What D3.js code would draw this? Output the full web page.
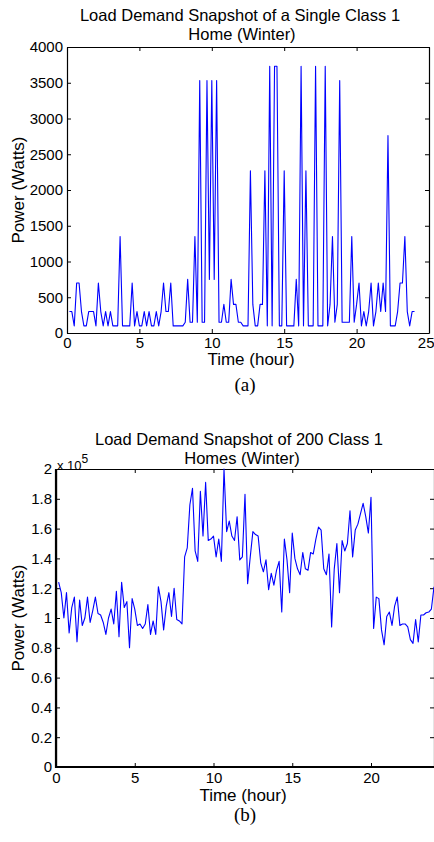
<!DOCTYPE html>
<html>
<head>
  <meta charset="utf-8"/>
  <title>Load demand</title>
  <style>
    body { margin: 0; background: #fff; }
    text { font-family: "Liberation Sans", Arial, Helvetica, sans-serif; fill: #000; }
    .axis path, .axis line { stroke: #000; }
    .axis text { font-size: 15px; font-family: "Liberation Sans", Arial, sans-serif; }
  </style>
</head>
<body>
<div id="graph"></div>
<script src="https://cdn.jsdelivr.net/npm/d3@7"></script>
<script>
    // single home, watts, one sample every 10 min starting at 0:10
    var powerA = [
      300, 300, 100, 700, 700, 300, 100, 100, 300, 300, 300, 100,
      700, 300, 100, 300, 100, 300, 100, 100, 100, 1350, 100, 100,
      100, 100, 700, 100, 300, 100, 100, 300, 100, 300, 100, 100,
      300, 100, 300, 700, 300, 300, 700, 100, 100, 100, 100, 100,
      150, 750, 150, 150, 1350, 150, 3530, 150, 150, 3530, 750, 3530,
      750, 3530, 150, 150, 400, 150, 150, 750, 400, 400, 150, 150,
      100, 100, 100, 2270, 400, 100, 100, 400, 400, 2270, 100, 3730,
      100, 3730, 3730, 100, 100, 2270, 100, 100, 100, 100, 750, 100,
      3730, 100, 2270, 100, 100, 100, 3730, 100, 100, 100, 3730, 100,
      400, 1350, 150, 400, 3530, 150, 150, 150, 150, 1350, 150, 400,
      700, 100, 300, 100, 300, 700, 100, 300, 700, 300, 700, 300,
      2760, 100, 100, 100, 300, 700, 700, 1350, 300, 100, 300, 300
    ];
    // 200 homes, in units of 10^5 watts
    var powerB = [
      1.24, 1.17, 1.00, 1.17, 0.90, 1.07, 1.14, 0.84, 1.12, 0.95, 1.00, 1.14,
      0.97, 1.05, 1.14, 1.03, 1.02, 0.97, 0.89, 1.00, 1.06, 0.96, 1.18, 0.875,
      1.24, 1.07, 1.11, 0.80, 1.13, 1.06, 0.95, 0.96, 0.93, 0.96, 1.09, 0.89,
      0.98, 0.89, 1.21, 1.11, 0.92, 1.08, 1.17, 1.01, 1.20, 0.99, 0.98, 0.96,
      1.41, 1.47, 1.76, 1.87, 1.45, 1.38, 1.85, 1.55, 1.91, 1.52, 1.53, 1.55,
      1.41, 1.53, 1.38, 2.00, 1.58, 1.65, 1.55, 1.52, 1.68, 1.39, 1.41, 1.83,
      1.23, 1.41, 1.58, 1.56, 1.55, 1.37, 1.31, 1.39, 1.19, 1.30, 1.22, 1.32,
      1.38, 1.04, 1.53, 1.39, 1.17, 1.57, 1.40, 1.33, 1.29, 1.44, 1.33, 1.32,
      1.44, 1.43, 1.53, 1.61, 1.59, 1.33, 1.29, 1.43, 0.94, 1.33, 1.50, 1.17,
      1.52, 1.45, 1.50, 1.72, 1.41, 1.59, 1.63, 1.70, 1.77, 1.68, 1.57, 1.81,
      0.93, 1.14, 1.13, 0.92, 0.82, 1.01, 1.04, 0.95, 1.08, 1.14, 0.95, 0.96,
      0.96, 0.94, 0.855, 0.83, 0.99, 0.84, 1.02, 1.02, 1.035, 1.04, 1.06, 1.21
    ];
    var sampleHours = powerA.map(function(d, i) { return (i + 1) / 6; });

    var xTicksA = [0, 5, 10, 15, 20, 25];
    var yTicksA = [0, 500, 1000, 1500, 2000, 2500, 3000, 3500, 4000];
    var xTicksB = [0, 5, 10, 15, 20];
    var yTicksB = [0, 0.2, 0.4, 0.6, 0.8, 1, 1.2, 1.4, 1.6, 1.8, 2];
    var titlesA = ["Load Demand Snapshot of a Single Class 1", "Home (Winter)"];
    var titlesB = ["Load Demand Snapshot of 200 Class 1", "Homes (Winter)"];

    var svg = d3.select("#graph").append("svg")
        .attr("width", 434)
        .attr("height", 842);

    function panel(o) {
      var x = d3.scaleLinear().domain(o.xDomain).range([o.left, o.right]);
      var y = d3.scaleLinear().domain(o.yDomain).range([o.bottom, o.top]);
      var g = svg.append("g");

      // inward ticks on all four sides, matlab style
      var xb = g.append("g").attr("class", "axis")
        .attr("transform", "translate(0," + o.bottom + ")")
        .call(d3.axisBottom(x).tickValues(o.xTicks).tickSize(-4).tickPadding(o.xPad).tickSizeOuter(0));
      g.append("g").attr("class", "axis")
        .attr("transform", "translate(0," + o.top + ")")
        .call(d3.axisTop(x).tickValues(o.xTicks).tickSize(-4).tickFormat("").tickSizeOuter(0));
      g.append("g").attr("class", "axis")
        .attr("transform", "translate(" + o.left + ",0)")
        .call(d3.axisLeft(y).tickValues(o.yTicks).tickSize(-4).tickPadding(4).tickSizeOuter(0).tickFormat(o.yFormat));
      g.append("g").attr("class", "axis")
        .attr("transform", "translate(" + o.right + ",0)")
        .call(d3.axisRight(y).tickValues(o.yTicks).tickSize(-4).tickFormat("").tickSizeOuter(0));
      g.selectAll(".axis path").attr("stroke-width", 1.2);
      g.selectAll(".axis line").attr("stroke-width", 1);

      // keep a label that sits on the right edge inside the page
      xb.selectAll(".tick text").filter(function(d) { return x(d) > 420; })
        .attr("text-anchor", "end").attr("x", 5);

      var line = d3.line()
          .x(function(d, i) { return x(sampleHours[i]); })
          .y(function(d) { return y(d); });
      g.append("path")
        .datum(o.values)
        .attr("fill", "none")
        .attr("stroke", "#0000ff")
        .attr("stroke-width", 1.1)
        .attr("stroke-linejoin", "round")
        .attr("d", line);

      if (o.thick) {
        g.append("line").attr("x1", o.left).attr("x2", o.left)
          .attr("y1", o.top).attr("y2", o.bottom + 1)
          .attr("stroke", "#000").attr("stroke-width", 2.2);
        g.append("line").attr("x1", o.left - 1).attr("x2", o.right)
          .attr("y1", o.bottom).attr("y2", o.bottom)
          .attr("stroke", "#000").attr("stroke-width", 2.2);
      }

      g.append("text").attr("x", o.titleX[0]).attr("y", o.titleY[0])
        .attr("text-anchor", "middle").style("font-size", "16.5px").text(o.titles[0]);
      g.append("text").attr("x", o.titleX[1]).attr("y", o.titleY[1])
        .attr("text-anchor", "middle").style("font-size", "16.5px").text(o.titles[1]);
      g.append("text").attr("x", o.xLabelX).attr("y", o.xLabelY)
        .attr("text-anchor", "middle").style("font-size", "17px").text("Time (hour)");
      g.append("text")
        .attr("transform", "translate(" + o.yLabelX + "," + o.yLabelY + ") rotate(-90)")
        .attr("text-anchor", "middle").style("font-size", "17px").text("Power (Watts)");
      g.append("text").attr("x", o.capX).attr("y", o.capY)
        .attr("text-anchor", "middle")
        .style("font-family", "'Liberation Serif', 'Times New Roman', serif")
        .style("font-size", "19px").text(o.caption);
      return g;
    }

    panel({
      left: 67, right: 429, top: 47, bottom: 333,
      xDomain: [0, 25], yDomain: [0, 4000],
      xTicks: xTicksA, yTicks: yTicksA, xPad: 4,
      yFormat: d3.format("d"),
      values: powerA,
      titles: titlesA, titleX: [240, 242], titleY: [21, 40],
      xLabelX: 251, xLabelY: 365,
      yLabelX: 24, yLabelY: 190,
      caption: "(a)", capX: 245, capY: 391
    });

    var gB = panel({
      left: 56, right: 434, top: 469, bottom: 767,
      xDomain: [0, 24], yDomain: [0, 2],
      xTicks: xTicksB, yTicks: yTicksB, xPad: 5,
      yFormat: function(d) { return String(d); },
      values: powerB, thick: true,
      titles: titlesB, titleX: [239, 242], titleY: [445, 464],
      xLabelX: 243, xLabelY: 801,
      yLabelX: 24, yLabelY: 618,
      caption: "(b)", capX: 245, capY: 821
    });

    // exponent label at the top of the y axis
    var expo = gB.append("text").attr("x", 57).attr("y", 470).style("font-size", "13px");
    expo.append("tspan").text("x 10");
    expo.append("tspan").attr("dy", -7).style("font-size", "12px").text("5");
</script>
</body>
</html>
